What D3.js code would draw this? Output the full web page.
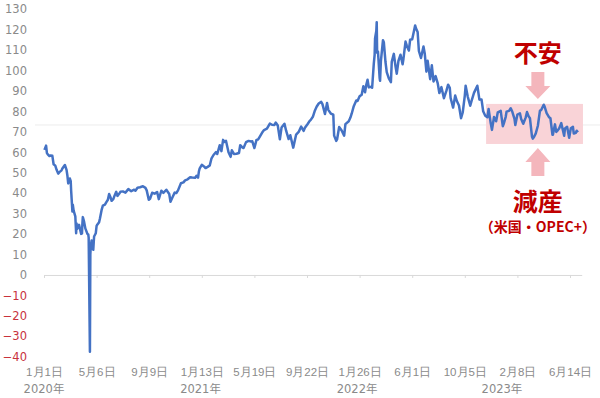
<!DOCTYPE html>
<html>
<head>
<meta charset="utf-8">
<script src="https://cdn.jsdelivr.net/npm/d3@7"></script>
<style>
  body { margin: 0; background: #fff; }
  svg { display: block; }
</style>
</head>
<body>
<svg id="chart"></svg>
<script>
// WTI price (date, USD)
const wti2020 = [
  ["2020-01-02",61.2],["2020-01-06",63.3],["2020-01-08",59.6],["2020-01-10",59.0],["2020-01-14",58.2],
  ["2020-01-17",58.5],["2020-01-21",58.3],["2020-01-24",54.2],["2020-01-28",53.5],["2020-01-31",51.6],
  ["2020-02-04",49.6],["2020-02-07",50.3],["2020-02-12",51.2],["2020-02-14",52.1],["2020-02-20",53.8],
  ["2020-02-24",51.4],["2020-02-26",48.7],["2020-02-28",44.8],["2020-03-03",47.2],["2020-03-05",45.9],
  ["2020-03-06",41.3],["2020-03-09",31.1],["2020-03-10",34.4],["2020-03-12",31.5],["2020-03-16",28.7],
  ["2020-03-18",20.4],["2020-03-19",25.2],["2020-03-20",22.4],["2020-03-23",23.4],["2020-03-25",24.5],
  ["2020-03-30",20.1],["2020-04-01",20.3],["2020-04-02",25.3],["2020-04-03",28.3],["2020-04-06",26.1],
  ["2020-04-09",22.8],["2020-04-14",20.1],["2020-04-16",19.9],["2020-04-17",18.3],["2020-04-20",-37.6],
  ["2020-04-21",10.0],["2020-04-22",13.8],["2020-04-24",16.9],["2020-04-27",12.8],["2020-04-28",12.3],
  ["2020-04-30",18.8],["2020-05-04",20.4],["2020-05-06",24.0],["2020-05-08",24.7],["2020-05-12",25.8],
  ["2020-05-14",27.6],["2020-05-18",31.8],["2020-05-21",33.9],["2020-05-26",34.4],["2020-05-29",35.5],
  ["2020-06-02",36.8],["2020-06-05",39.6],["2020-06-08",38.2],["2020-06-11",36.3],["2020-06-15",37.1],
  ["2020-06-18",38.8],["2020-06-22",40.7],["2020-06-25",38.7],["2020-06-29",39.7],["2020-07-02",40.7],
  ["2020-07-08",40.9],["2020-07-14",40.3],["2020-07-21",42.0],["2020-07-28",41.0],["2020-08-04",41.7],
  ["2020-08-07",41.2],["2020-08-12",42.7],["2020-08-18",42.9],["2020-08-25",43.4],["2020-08-31",42.6],
  ["2020-09-03",41.4],["2020-09-08",36.8],["2020-09-11",37.3],["2020-09-16",40.2],["2020-09-22",39.8],
  ["2020-09-28",40.6],["2020-10-02",37.1],["2020-10-08",41.2],["2020-10-13",40.2],["2020-10-20",41.7],
  ["2020-10-27",39.6],["2020-10-30",35.8],["2020-11-03",37.7],["2020-11-09",40.3],["2020-11-13",40.1],
  ["2020-11-17",41.4],["2020-11-24",44.9],["2020-11-30",45.3],["2020-12-04",46.3],["2020-12-10",46.8],
  ["2020-12-16",47.8],["2020-12-21",47.7],["2020-12-28",47.6],["2020-12-31",48.5]
];
const wti2021 = [
  ["2021-01-04",47.6],["2021-01-06",50.6],["2021-01-08",52.2],["2021-01-13",53.9],["2021-01-19",53.0],
  ["2021-01-22",52.3],["2021-01-27",52.9],["2021-02-01",53.6],["2021-02-05",56.9],["2021-02-10",58.7],
  ["2021-02-16",60.1],["2021-02-19",59.2],["2021-02-25",63.5],["2021-03-01",60.6],["2021-03-05",66.1],
  ["2021-03-08",65.1],["2021-03-12",65.6],["2021-03-18",60.0],["2021-03-23",57.8],["2021-03-26",61.0],
  ["2021-03-31",59.2],["2021-04-06",59.3],["2021-04-12",59.7],["2021-04-15",63.5],["2021-04-20",62.4],
  ["2021-04-23",62.1],["2021-04-29",65.0],["2021-05-05",65.6],["2021-05-11",65.3],["2021-05-14",65.4],
  ["2021-05-19",62.1],["2021-05-24",66.1],["2021-05-28",66.3],["2021-06-01",67.7],["2021-06-08",70.1],
  ["2021-06-11",70.9],["2021-06-18",71.6],["2021-06-25",74.1],["2021-06-30",73.5],["2021-07-06",73.4],
  ["2021-07-09",74.6],["2021-07-14",73.1],["2021-07-19",66.4],["2021-07-23",72.1],["2021-07-30",74.0],
  ["2021-08-03",70.6],["2021-08-09",66.5],["2021-08-13",68.4],["2021-08-20",62.3],["2021-08-27",68.7],
  ["2021-09-02",70.0],["2021-09-08",72.6],["2021-09-14",70.5],["2021-09-17",72.0],["2021-09-24",74.0],
  ["2021-09-28",75.3],["2021-10-01",75.9],["2021-10-06",77.4],["2021-10-11",80.5],["2021-10-15",82.3],
  ["2021-10-20",83.9],["2021-10-26",84.7],["2021-10-29",83.6],["2021-11-04",78.8],["2021-11-09",84.2],
  ["2021-11-12",80.8],["2021-11-18",79.0],["2021-11-24",78.4],["2021-11-26",68.2],["2021-12-01",65.6],
  ["2021-12-03",66.3],["2021-12-08",72.4],["2021-12-14",70.7],["2021-12-20",68.2],["2021-12-23",73.8],
  ["2021-12-31",75.2]
];
const wti2022 = [
  ["2022-01-04",77.0],["2022-01-07",78.9],["2022-01-12",82.6],["2022-01-18",85.4],["2022-01-21",85.1],
  ["2022-01-26",87.4],["2022-01-31",88.2],["2022-02-04",92.3],["2022-02-08",89.4],["2022-02-11",93.1],
  ["2022-02-14",95.5],["2022-02-17",91.8],["2022-02-23",92.1],["2022-02-25",91.6],["2022-03-01",103.4],
  ["2022-03-03",107.7],["2022-03-04",115.7],["2022-03-07",119.4],["2022-03-08",123.7],["2022-03-09",108.7],
  ["2022-03-11",109.3],["2022-03-15",96.4],["2022-03-16",95.0],["2022-03-18",104.7],["2022-03-23",114.9],
  ["2022-03-25",113.9],["2022-03-29",104.2],["2022-04-01",99.3],["2022-04-06",96.2],["2022-04-11",94.3],
  ["2022-04-13",104.3],["2022-04-18",108.2],["2022-04-22",102.1],["2022-04-25",98.5],["2022-04-29",104.7],
  ["2022-05-04",107.8],["2022-05-09",103.1],["2022-05-11",105.7],["2022-05-16",114.2],["2022-05-19",112.2],
  ["2022-05-24",109.8],["2022-05-27",115.1],["2022-06-01",115.3],["2022-06-08",122.1],["2022-06-10",120.7],
  ["2022-06-14",118.9],["2022-06-17",109.6],["2022-06-22",106.2],["2022-06-28",111.8],["2022-07-01",108.4],
  ["2022-07-05",99.5],["2022-07-08",104.8],["2022-07-14",95.8],["2022-07-18",102.6],["2022-07-22",94.7],
  ["2022-07-27",97.3],["2022-08-01",93.9],["2022-08-05",89.0],["2022-08-10",91.9],["2022-08-16",86.5],
  ["2022-08-22",90.2],["2022-08-26",93.1],["2022-08-30",91.6],["2022-09-01",86.6],["2022-09-07",81.9],
  ["2022-09-12",87.8],["2022-09-16",85.1],["2022-09-21",82.9],["2022-09-26",76.7],["2022-09-30",79.5],
  ["2022-10-05",87.8],["2022-10-07",92.6],["2022-10-12",87.3],["2022-10-18",82.8],["2022-10-21",85.1],
  ["2022-10-27",89.1],["2022-11-04",92.6],["2022-11-09",85.8],["2022-11-14",85.9],["2022-11-18",80.1],
  ["2022-11-23",77.9],["2022-11-28",77.2],["2022-12-01",81.2],["2022-12-06",74.3],["2022-12-09",71.0],
  ["2022-12-14",77.3],["2022-12-19",75.2],["2022-12-23",79.6],["2022-12-30",80.3]
];
const wti2023 = [
  ["2023-01-04",72.8],["2023-01-06",73.8],["2023-01-11",77.4],["2023-01-13",79.9],["2023-01-19",80.3],
  ["2023-01-23",81.6],["2023-01-27",79.7],["2023-02-01",76.4],["2023-02-03",73.4],["2023-02-08",78.5],
  ["2023-02-14",79.1],["2023-02-17",76.3],["2023-02-22",74.0],["2023-02-28",77.1],["2023-03-03",79.7],
  ["2023-03-07",77.6],["2023-03-10",76.7],["2023-03-15",67.6],["2023-03-17",66.7],["2023-03-20",67.6],
  ["2023-03-24",69.3],["2023-03-29",73.0],["2023-04-03",80.4],["2023-04-06",80.7],["2023-04-12",83.3],
  ["2023-04-14",82.5],["2023-04-19",79.2],["2023-04-25",77.1],["2023-04-28",76.8],["2023-05-03",68.6],
  ["2023-05-04",68.6],["2023-05-09",73.7],["2023-05-12",70.0],["2023-05-16",70.9],["2023-05-19",71.7],
  ["2023-05-24",74.3],["2023-05-31",68.1],["2023-06-02",71.7],["2023-06-07",72.5],["2023-06-12",67.1],
  ["2023-06-16",71.8],["2023-06-21",72.5],["2023-06-23",69.2],["2023-06-28",69.6],["2023-06-30",70.6],
  ["2023-07-03",69.8]
];

const yTicks = [130, 120, 110, 100, 90, 80, 70, 60, 50, 40, 30, 20, 10, 0, -10, -20, -30, -40];
const xTickDates = ["2020-01-01","2020-05-06","2020-09-09","2021-01-13","2021-05-19","2021-09-22",
                    "2022-01-26","2022-06-01","2022-10-05","2023-02-08","2023-06-14"];
const xTickLabels = ["1月1日","5月6日","9月9日","1月13日","5月19日","9月22日",
                     "1月26日","6月1日","10月5日","2月8日","6月14日"];
const yearLabels = ["2020年","2021年","2022年","2023年"];
const yearDates = ["2020-01-01","2021-01-10","2022-01-20","2023-01-02"];

// highlighted range and notes
const boxDates = ["2022-11-25","2023-07-15"];
const boxRange = [64.1, 83.7];
const arrowDate = "2023-03-29";
const noteTop = "不安";
const noteBottom = "減産";
const noteBottomSub = "（米国・OPEC+）";

const dimensions = { width: 600, height: 398 };
const parse = d3.timeParse("%Y-%m-%d");
const dataset = [...wti2020, ...wti2021, ...wti2022, ...wti2023].map(d => ({ date: parse(d[0]), value: d[1] }));

const svg = d3.select("#chart")
  .attr("width", dimensions.width)
  .attr("height", dimensions.height)
  .style("font-family", "'DejaVu Sans', 'Noto Sans CJK JP', sans-serif");

const xScale = d3.scaleTime()
  .domain([parse("2020-01-01"), parse("2023-07-12")])
  .range([44, 581.7]);

const yScale = d3.scaleLinear()
  .domain([-40, 130])
  .range([356.7, 9.3]);

// faint reference line
svg.append("line")
  .attr("x1", 35).attr("x2", 600)
  .attr("y1", yScale(73.4)).attr("y2", yScale(73.4))
  .attr("stroke", "#ececec")
  .attr("stroke-width", 1);

// y axis labels
const yAxis = d3.axisLeft(yScale).tickValues(yTicks).tickSize(0).tickPadding(0);
const yAxisGroup = svg.append("g")
  .attr("transform", "translate(27,0)")
  .call(yAxis);
yAxisGroup.select(".domain").remove();
yAxisGroup.selectAll("text")
  .attr("font-size", "11.5px")
  .attr("font-family", "'DejaVu Sans', sans-serif")
  .attr("fill", d => d < 0 ? "#c8323c" : "#8a8a8a");

// zero line with ticks
const zeroAxis = d3.axisBottom(xScale)
  .tickValues(xTickDates.map(parse))
  .tickSize(3)
  .tickSizeOuter(0)
  .tickFormat("");
svg.append("g")
  .attr("transform", `translate(0,${yScale(0)})`)
  .call(zeroAxis)
  .call(g => g.selectAll("line, path").attr("stroke", "#d9d9d9"));

// date labels at bottom
const labelAxis = d3.axisBottom(xScale)
  .tickValues(xTickDates.map(parse))
  .tickSize(0)
  .tickPadding(0)
  .tickFormat((d, i) => xTickLabels[i]);
const labelGroup = svg.append("g")
  .attr("transform", "translate(0,368)")
  .call(labelAxis);
labelGroup.select(".domain").remove();
labelGroup.selectAll("text")
  .attr("font-size", "11.5px")
  .attr("fill", "#8a8a8a");

svg.append("g")
  .selectAll("text")
  .data(yearLabels)
  .enter()
  .append("text")
  .text(d => d)
  .attr("x", (d, i) => xScale(parse(yearDates[i])))
  .attr("y", 393)
  .attr("text-anchor", "middle")
  .attr("font-size", "11.5px")
  .attr("fill", "#8a8a8a");

// pink highlight box
const bx0 = xScale(parse(boxDates[0]));
const bx1 = xScale(parse(boxDates[1]));
svg.append("rect")
  .attr("x", bx0)
  .attr("y", yScale(boxRange[1]))
  .attr("width", bx1 - bx0)
  .attr("height", yScale(boxRange[0]) - yScale(boxRange[1]))
  .attr("fill", "#f9d3d7");

// price line
const line = d3.line()
  .x(d => xScale(d.date))
  .y(d => yScale(d.value));
svg.append("path")
  .datum(dataset)
  .attr("d", line)
  .attr("fill", "none")
  .attr("stroke", "#4472c4")
  .attr("stroke-width", 2.5)
  .attr("stroke-linejoin", "round");

// arrows
const ax = xScale(parse(arrowDate));
const arrowColor = "#f4b6bc";
function arrow(tipY, shoulderY, tailY) {
  return `M${ax - 6.5},${tailY} L${ax + 6.5},${tailY} L${ax + 6.5},${shoulderY} L${ax + 12.5},${shoulderY}
          L${ax},${tipY} L${ax - 12.5},${shoulderY} L${ax - 6.5},${shoulderY} Z`;
}
svg.append("path").attr("d", arrow(99, 86, 72)).attr("fill", arrowColor);
svg.append("path").attr("d", arrow(148, 162, 176)).attr("fill", arrowColor);

// notes
svg.append("text")
  .text(noteTop)
  .attr("x", ax).attr("y", 51)
  .attr("text-anchor", "middle")
  .attr("dominant-baseline", "central")
  .attr("font-family", "'Noto Sans CJK JP', sans-serif")
  .attr("font-weight", "bold")
  .attr("font-size", "24px")
  .attr("fill", "#c00000");

svg.append("text")
  .text(noteBottom)
  .attr("x", ax).attr("y", 200)
  .attr("text-anchor", "middle")
  .attr("dominant-baseline", "central")
  .attr("font-family", "'Noto Sans CJK JP', sans-serif")
  .attr("font-weight", "bold")
  .attr("font-size", "25px")
  .attr("fill", "#c00000");

svg.append("text")
  .text(noteBottomSub)
  .attr("x", ax).attr("y", 225.5)
  .attr("text-anchor", "middle")
  .attr("dominant-baseline", "central")
  .attr("font-family", "'Noto Sans CJK JP', sans-serif")
  .attr("font-weight", "bold")
  .attr("font-size", "14px")
  .attr("fill", "#c00000");
</script>
</body>
</html>
